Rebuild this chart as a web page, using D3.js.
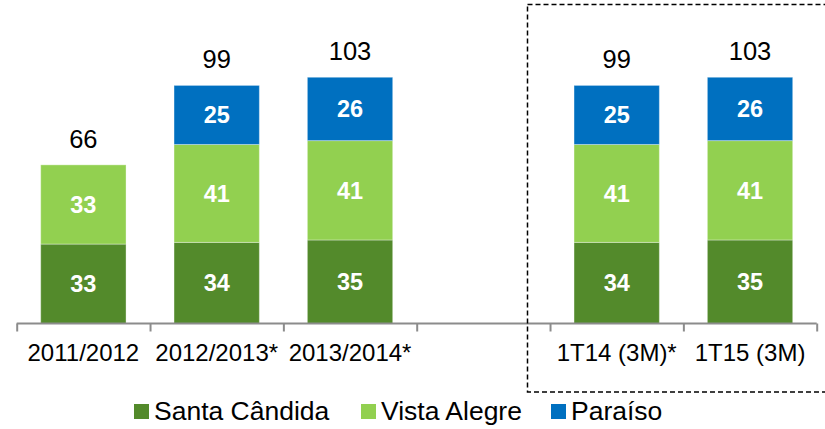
<!DOCTYPE html>
<html>
<head>
<meta charset="utf-8">
<script src="https://cdn.jsdelivr.net/npm/d3@7"></script>
<style>
  body { margin: 0; background: #fff; }
  svg { display: block; font-family: Arial, "Liberation Sans", sans-serif; }
</style>
</head>
<body>
<div id="chart"></div>
<script>
// data (segment values; labels show them rounded)
var categories = ["2011/2012", "2012/2013*", "2013/2014*", "", "1T14 (3M)*", "1T15 (3M)"];
var santaCandida = [33.1, 33.8, 34.8, null, 33.8, 34.8];
var vistaAlegre = [33.0, 40.8, 41.4, null, 40.8, 41.4];
var paraiso = [0, 24.6, 26.4, null, 24.6, 26.4];
var seriesNames = ["Santa Cândida", "Vista Alegre", "Paraíso"];

var drawChart = function() {
    const width = 825, height = 429;
    const colors = ["#538a2b", "#92d050", "#0070c0"];
    const axisColor = "#8c8c8c";

    var svg = d3.select("#chart").append("svg")
        .attr("width", width)
        .attr("height", height);

    var idx = categories.map((d, i) => i);
    var x = d3.scaleBand()
        .domain(idx)
        .range([16.7, 816.7])
        .paddingInner(0.36)
        .paddingOuter(0.18);

    var y = d3.scaleLinear()
        .domain([0, 110])
        .range([323.5, 59.5]);

    // stacked table
    var rows = idx.filter(i => santaCandida[i] != null).map(i => ({
        i: i, s0: santaCandida[i], s1: vistaAlegre[i], s2: paraiso[i]
    }));
    var stack = d3.stack().keys(["s0", "s1", "s2"])(rows);

    var g = svg.append("g");
    stack.forEach(function(layer, k) {
        var segs = g.append("g").selectAll("g")
            .data(layer.filter(d => d[1] - d[0] > 0))
            .join("g");
        segs.append("rect")
            .attr("x", d => x(d.data.i))
            .attr("width", x.bandwidth())
            .attr("y", d => y(d[1]))
            .attr("height", d => y(d[0]) - y(d[1]))
            .attr("fill", colors[k])
            .attr("stroke", "#ffffff")
            .attr("stroke-opacity", 0.35)
            .attr("stroke-width", 1);
        segs.append("text")
            .attr("x", d => x(d.data.i) + x.bandwidth() / 2)
            .attr("y", d => (y(d[0]) + y(d[1])) / 2)
            .attr("dy", "0.36em")
            .attr("text-anchor", "middle")
            .attr("fill", "#fff")
            .attr("font-weight", "bold")
            .attr("font-size", 23.5)
            .text(d => Math.round(d[1] - d[0]));
    });

    // totals above bars
    g.append("g").selectAll("text")
        .data(rows)
        .join("text")
        .attr("x", d => x(d.i) + x.bandwidth() / 2)
        .attr("y", d => y(d.s0 + d.s1 + d.s2) - 17)
        .attr("text-anchor", "middle")
        .attr("fill", "#000")
        .attr("font-size", 25.5)
        .text(d => Math.round(d.s0 + d.s1 + d.s2));

    // x axis with ticks at band edges
    var edge = d3.scaleLinear().domain([0, categories.length]).range([16.7, 816.7]);
    var axis = svg.append("g")
        .attr("transform", "translate(0,323.5)")
        .call(d3.axisBottom(edge).tickValues(d3.range(categories.length + 1)).tickSize(8).tickFormat(""));
    axis.select(".domain").attr("stroke", axisColor).attr("stroke-width", 2).attr("d", "M16.7,0H816.7");
    axis.selectAll(".tick line").attr("stroke", axisColor).attr("stroke-width", 2);

    svg.append("g").selectAll("text")
        .data(idx)
        .join("text")
        .attr("x", i => x(i) + x.bandwidth() / 2)
        .attr("y", 361)
        .attr("text-anchor", "middle")
        .attr("font-size", 24)
        .attr("fill", "#000")
        .text(i => categories[i]);

    // dashed box around the quarterly bars
    svg.append("rect")
        .attr("x", 527.5)
        .attr("y", 4.5)
        .attr("width", 320)
        .attr("height", 387.5)
        .attr("fill", "none")
        .attr("stroke", "#000")
        .attr("stroke-width", 1.5)
        .attr("stroke-dasharray", "5,3");

    // legend
    var legendX = [134, 361, 551];
    var legend = svg.append("g").selectAll("g")
        .data(seriesNames)
        .join("g")
        .attr("transform", (d, i) => `translate(${legendX[i]},0)`);
    legend.append("rect")
        .attr("y", 404)
        .attr("width", 15)
        .attr("height", 15)
        .attr("fill", (d, i) => colors[i]);
    legend.append("text")
        .attr("x", 20)
        .attr("y", 420)
        .attr("font-size", 26.5)
        .attr("fill", "#000")
        .text(d => d);
};

window.addEventListener("load", drawChart);
</script>
</body>
</html>
